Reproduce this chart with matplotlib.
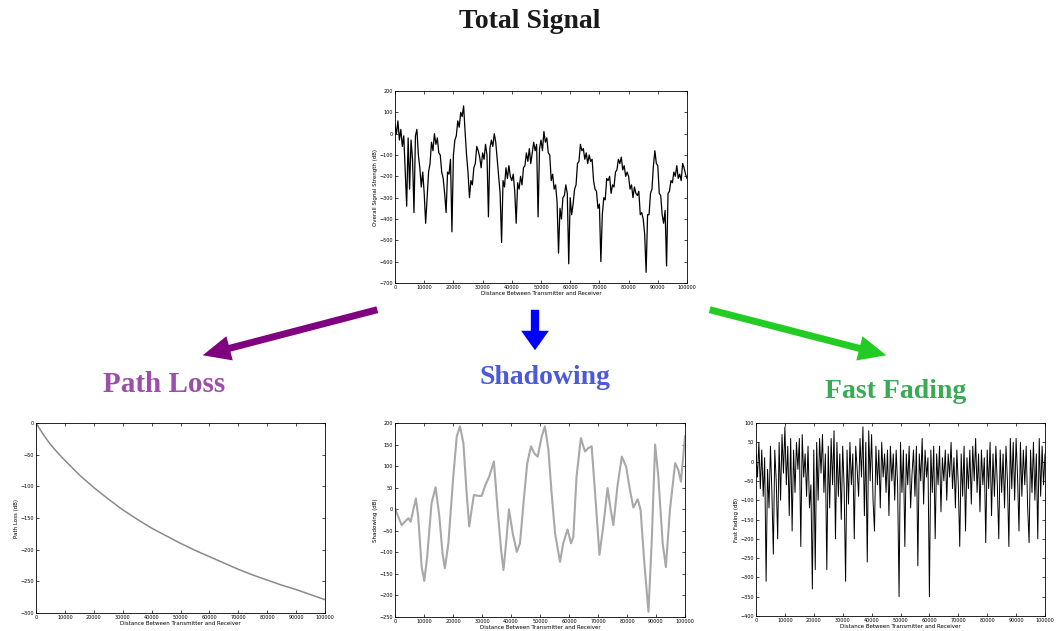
import numpy as np
import matplotlib
matplotlib.use("Agg")
import matplotlib.pyplot as plt
from matplotlib.patches import FancyArrowPatch

W, H = 1056, 631

# total signal, sampled every 500 m (tick units as printed on the axis)
total_signal = [
    40, 0, 60, -30, 20, -60, -10, -180, -340, -20,
    -260, -30, -120, -370, -10, 20, -100, -160, -250, -180,
    -280, -420, -300, -180, -140, -40, -80, 0, -50, -20,
    -90, -100, -180, -210, -280, -370, -180, -190, -120, -460,
    -100, -30, -10, 60, 30, 100, 80, 130, 10, -100,
    -180, -300, -220, -240, -160, -140, -60, -80, -110, -160,
    -90, -120, -50, -100, -390, -70, -30, -60, 0, -40,
    -120, -200, -280, -510, -220, -250, -160, -210, -150, -200,
    -220, -190, -270, -420, -230, -260, -200, -240, -160, -150,
    -90, -130, -70, -140, -90, -40, -80, -50, -390, -70,
    -30, -80, 10, -40, -20, -90, -100, -220, -190, -260,
    -240, -320, -560, -350, -400, -300, -290, -240, -280, -610,
    -300, -380, -330, -260, -240, -140, -130, -50, -80, -70,
    -120, -90, -140, -100, -130, -120, -220, -260, -270, -350,
    -330, -600, -380, -300, -310, -210, -220, -200, -280, -240,
    -250, -180, -170, -120, -140, -110, -170, -150, -200, -180,
    -200, -260, -240, -300, -250, -280, -290, -270, -380, -370,
    -400, -470, -650, -380, -380, -280, -260, -150, -80, -140,
    -150, -280, -290, -380, -420, -360, -620, -280, -270, -220,
    -230, -180, -200, -150, -210, -190, -220, -140, -160, -190, -210,
]

# path loss
pl_dist = [0, 2500, 5000, 7500, 10000, 15000, 20000, 25000, 30000, 35000, 40000, 45000,
           50000, 55000, 60000, 65000, 70000, 75000, 80000, 85000, 90000, 95000, 100000]
path_loss = [0, -18, -34, -47, -59, -82, -102, -120, -137, -152, -166, -178,
             -190, -201, -211, -221, -231, -240, -248, -256, -263, -271, -279]

# shadowing
sh_dist = [0, 1100, 2300, 3400, 4600, 5400, 6300, 7200, 8000, 9200, 10100, 11100,
           12600, 14000, 15300, 16400, 17200, 18400, 20100, 21300, 22400, 23600, 24700,
           25600, 26400, 27200, 28700, 29900, 31000, 32500, 34100, 35400, 36600, 37400,
           38300, 39300, 40600, 42000, 43100, 44300, 45600, 46900, 48000, 49200, 50600,
           51700, 52900, 54000, 55200, 56900, 58000, 59500, 60700, 61500, 62600, 64100,
           65500, 66700, 67800, 69000, 70500, 71800, 73300, 74400, 75300, 76700, 78200,
           79700, 81000, 82200, 83700, 84700, 85900, 87400, 88500, 89700, 90800, 92300,
           93400, 94800, 96600, 97700, 98600, 100000]
shadowing = [2, -17, -37, -29, -21, -29, -2, 25, -17, -134, -166, -110,
             14, 51, -17, -103, -137, -79, 76, 169, 192, 153, 37,
             -40, -2, 33, 31, 31, 53, 76, 111, -2, -95, -141,
             -79, 0, -56, -99, -79, 14, 107, 146, 130, 122, 169,
             192, 138, 37, -56, -122, -79, -47, -79, -64, 76, 165,
             134, 142, 146, 37, -106, -40, 49, -2, -37, 53, 122,
             99, 45, 4, 23, -2, -118, -238, -79, 150, 76, -79,
             -134, -2, 107, 91, 64, 169]

# fast fading, sampled every 500 m
fast_fading = [
    20, -40, 50, -70, 30, -90, 10, -310, -20, -120,
    40, -80, -240, 30, -50, -200, 50, -100, 70, -30,
    90, -60, 40, -140, 60, -180, 30, -80, 50, -20,
    60, -220, 70, -40, 20, -90, 40, -120, -60, -330,
    30, -280, 50, -100, 60, -30, 70, -80, 20, -280,
    40, -120, 60, -60, 80, -200, 50, -90, 20, -150,
    40, -70, -310, 30, -110, 50, -60, 20, -200, 40,
    -20, -90, 60, -40, 90, -140, 50, -260, 80, -50,
    70, -100, -180, 40, -60, 30, -120, 50, -40, 20,
    -80, 30, -140, 40, -50, 20, -100, 30, -60, -350,
    50, -80, 30, -220, 20, -60, 40, -120, -30, 30,
    -90, 40, -270, 20, -50, 60, -110, 30, -40, 10,
    -350, 30, -80, 40, -200, 20, -60, 40, -130, 10,
    -50, 30, -100, 20, -40, 50, -70, 10, -120, 30,
    -60, -220, 20, -90, 40, -180, 10, -70, 30, -110,
    40, -50, 60, -80, 20, -130, 30, -60, 10, -210,
    30, -70, 50, -140, 20, -90, 40, -60, -200, 30,
    -80, 20, -120, 40, -50, -220, 60, -70, 50, -100,
    60, -40, -180, 50, -90, 30, -60, 40, -120, -210,
    30, -80, 50, -100, 20, -200, 60, -90, 40, -60, 20,
]

xticks = list(range(0, 100001, 10000))
xlabel = "Distance Between Transmitter and Receiver"

fig = plt.figure(figsize=(W / 100, H / 100), dpi=100)


def box(l, t, r, b):
    return [l / W, 1 - b / H, (r - l) / W, (b - t) / H]


def style(ax, ylim, yticks, ylabel):
    ax.set_xlim(0, 100000)
    ax.set_ylim(*ylim)
    ax.set_xticks(xticks)
    ax.set_yticks(yticks)
    ax.ticklabel_format(style="plain", useOffset=False)
    ax.tick_params(direction="in", top=True, right=True, length=2.5, width=0.5,
                   labelsize=3.5, pad=1.5)
    for s in ax.spines.values():
        s.set_linewidth(0.6)
    ax.set_xlabel(xlabel, fontsize=4, labelpad=1)
    ax.set_ylabel(ylabel, fontsize=4, labelpad=1)


ax_t = fig.add_axes(box(395, 91, 687, 283))
ax_t.plot(np.linspace(0, 100000, len(total_signal)), total_signal, color="black", lw=0.9)
style(ax_t, (-700, 200), range(-700, 201, 100), "Overall Signal Strength (dB)")

ax_p = fig.add_axes(box(36, 423, 325, 613))
ax_p.plot(pl_dist, path_loss, color="#8a8a8a", lw=1.1)
style(ax_p, (-300, 0), range(-300, 1, 50), "Path Loss (dB)")

ax_s = fig.add_axes(box(395, 423, 685, 617))
ax_s.plot(sh_dist, shadowing, color="#a8a8a8", lw=1.5)
style(ax_s, (-250, 200), range(-250, 201, 50), "Shadowing (dB)")

ax_f = fig.add_axes(box(756, 423, 1045, 616))
ax_f.plot(np.linspace(0, 100000, len(fast_fading)), fast_fading, color="black", lw=0.7)
style(ax_f, (-400, 100), range(-400, 101, 50), "Fast Fading (dB)")


def fp(x, y):
    return (x / W, 1 - y / H)


def arrow(p0, p1, color, tail, hw, hl):
    a = FancyArrowPatch(fp(*p0), fp(*p1), transform=fig.transFigure,
                        arrowstyle=f"simple,head_length={hl},head_width={hw},tail_width={tail}",
                        mutation_scale=10, color=color, lw=0)
    fig.add_artist(a)


arrow((380, 309), (200, 356), "#800080", 0.5, 1.8, 2.0)
arrow((535, 307), (535, 353), "#0000ff", 0.6, 2.0, 1.4)
arrow((707, 309), (889, 356), "#22cc22", 0.5, 1.8, 2.0)

serif = ["Liberation Serif", "DejaVu Serif"]
fig.text(*fp(530, 22), "Total Signal", ha="center", va="center", fontsize=20,
         fontweight="bold", family=serif, color="#1a1a1a")
fig.text(*fp(164, 385), "Path Loss", ha="center", va="center", fontsize=21,
         fontweight="bold", family=serif, color="#9c4fa8")
fig.text(*fp(545, 378), "Shadowing", ha="center", va="center", fontsize=20,
         fontweight="bold", family=serif, color="#4a5ad8")
fig.text(*fp(896, 392), "Fast Fading", ha="center", va="center", fontsize=20,
         fontweight="bold", family=serif, color="#3aaa55")

fig.savefig("out.png", dpi=100)
